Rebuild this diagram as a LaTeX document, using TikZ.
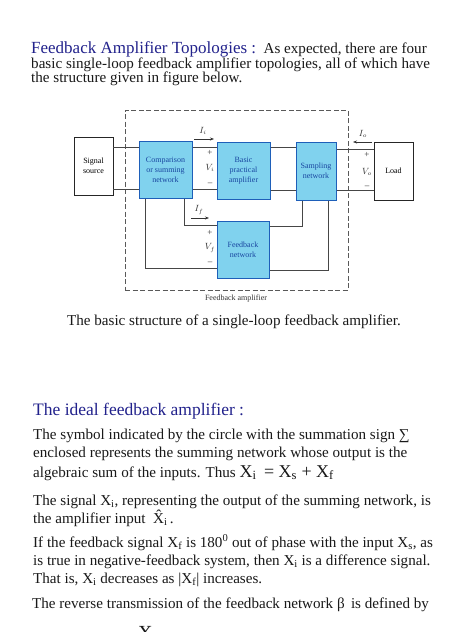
\documentclass[tikz,border=0pt]{standalone}
\usepackage{fontspec}
\setmainfont{Liberation Serif}
\usetikzlibrary{arrows.meta}
\definecolor{ttl}{RGB}{34,34,140}
\definecolor{boxfill}{RGB}{128,210,238}
\definecolor{boxedge}{RGB}{30,95,185}
\definecolor{boxtext}{RGB}{25,70,160}
\definecolor{wirec}{RGB}{70,70,70}
\definecolor{bodyc}{RGB}{25,25,25}
\newcommand\bodyfont{\fontsize{15.1}{17}\selectfont}
\newcommand\smallfont{\fontsize{8}{10}\selectfont}
\begin{document}
\begin{tikzpicture}[x=1pt,y=-1pt,
  bluebox/.style={draw=boxedge,line width=1pt,fill=boxfill,text=boxtext,inner sep=0pt,align=center,font=\smallfont},
  whitebox/.style={draw=black!85,line width=0.7pt,fill=white,text=black,inner sep=0pt,align=center,font=\smallfont},
  wire/.style={draw=wirec,line width=0.6pt},
  frame/.style={draw=black!65,line width=0.7pt,dash pattern=on 5pt off 2.5pt},
  curarrow/.style={draw=black!80,line width=0.7pt,-{Stealth[length=4pt,width=3pt]}},
  lbl/.style={inner sep=0pt,font=\fontsize{9}{10}\selectfont,text=black!80},
  txt/.style={anchor=base west,inner sep=0pt,text=bodyc,font=\bodyfont}]
\useasboundingbox (0,0) rectangle (474,632);
\clip (0,0) rectangle (474,632);
\fill[white] (0,0) rectangle (474,632);

% ---------- top text ----------
\node[txt] (t1) at (31,53) {{\color{ttl}\fontsize{17}{20}\selectfont Feedback Amplifier Topologies :}\ \ As expected, there are four};
\node[txt] (t2) at (31,68) {basic single-loop feedback amplifier topologies, all of which have};
\node[txt] (t3) at (31,82) {the structure given in figure below.};

% ---------- diagram ----------
\node[frame,minimum width=223pt,minimum height=180pt,inner sep=0pt] (fbamp) at (236.5,200) {};
\node[whitebox,minimum width=39pt,minimum height=58pt] (src) at (93.5,166) {Signal\\source};
\node[bluebox,minimum width=53pt,minimum height=57pt] (cmp) at (165.5,169.5) {Comparison\\or summing\\network};
\node[bluebox,minimum width=53pt,minimum height=57pt] (amp) at (243.5,170.5) {Basic\\practical\\amplifier};
\node[bluebox,minimum width=40pt,minimum height=58pt] (smp) at (316,171) {Sampling\\network};
\node[whitebox,minimum width=39pt,minimum height=58pt] (load) at (393.5,171) {Load};
\node[bluebox,minimum width=52pt,minimum height=57pt] (fbn) at (243,249.5) {Feedback\\network};
\node[lbl,font=\fontsize{8}{9}\selectfont] (fblab) at (236,299) {Feedback amplifier};

\coordinate (ytop) at (0,147);
\coordinate (ybot) at (0,189);
\coordinate (ytopo) at (0,149);
\coordinate (yboto) at (0,190);
\draw[wire] (src.east |- ytop) -- (cmp.west |- ytop);
\draw[wire] (src.east |- ybot) -- (cmp.west |- ybot);
\draw[wire] (cmp.east |- ytop) -- (amp.west |- ytop);
\draw[wire] (cmp.east |- ybot) -- (amp.west |- ybot);
\draw[wire] (amp.east |- ytop) -- (smp.west |- ytop);
\draw[wire] (amp.east |- yboto) -- (smp.west |- yboto);
\draw[wire] (smp.east |- ytopo) -- (load.west |- ytopo);
\draw[wire] (smp.east |- yboto) -- (load.west |- yboto);

\coordinate (ca) at (184,225);
\coordinate (cb) at (145,268);
\coordinate (sa) at (302,226);
\coordinate (sb) at (328,270);
\draw[wire] (cmp.south -| ca) -- (ca) -- (fbn.west |- ca);
\draw[wire] (cmp.south -| cb) -- (cb) -- (fbn.west |- cb);
\draw[wire] (smp.south -| sa) -- (sa) -- (fbn.east |- sa);
\draw[wire] (smp.south -| sb) -- (sb) -- (fbn.east |- sb);

% current arrows
\coordinate (ii1) at (194,139); \coordinate (ii2) at (214,139);
\draw[curarrow] (ii1) -- (ii2);
\node[lbl] (iil) at (203,131) {$I_i$};
\coordinate (io1) at (372,142); \coordinate (io2) at (353,142);
\draw[curarrow] (io1) -- (io2);
\node[lbl] (iol) at (363,134) {$I_o$};
\coordinate (if1) at (191,218); \coordinate (if2) at (209,218);
\draw[curarrow] (if1) -- (if2);
\node[lbl] (ifl) at (199,210) {$I_f$};

% voltage labels
\node[lbl] (vip) at (210,153) {+};
\node[lbl] (vi) at (210,168) {$V_i$};
\node[lbl] (vim) at (210,184) {--};
\node[lbl] (vop) at (367,155) {+};
\node[lbl] (vo) at (367,172) {$V_o$};
\node[lbl] (vom) at (367,187) {--};
\node[lbl] (vfp) at (210,233) {+};
\node[lbl] (vf) at (210,248) {$V_f$};
\node[lbl] (vfm) at (210,263) {--};

% caption
\node[txt,anchor=base] (cap) at (234,325) {The basic structure of a single-loop feedback amplifier.};

% ---------- lower text ----------
\node[txt,text=ttl,font=\fontsize{17.5}{20}\selectfont] (h2) at (33,415) {The ideal feedback amplifier :};
\node[txt] (b1) at (33,439) {The symbol indicated by the circle with the summation sign ∑};
\node[txt] (b2) at (33,457) {enclosed represents the summing network whose output is the};
\node[txt] (b3) at (33,477) {algebraic sum of the inputs. Thus {\fontsize{18}{20}\selectfont X\textsubscript{i} \,= X\textsubscript{s} + X\textsubscript{f}}};
\node[txt] (b4) at (33,505) {The signal X\textsubscript{i}, representing the output of the summing network, is};
\node[txt] (b5) at (33,523) {the amplifier input \ \^{X}\textsubscript{i}\,.};
\node[txt] (b6) at (33,547) {If the feedback signal X\textsubscript{f} is 180\textsuperscript{0} out of phase with the input X\textsubscript{s}, as};
\node[txt] (b7) at (33,565) {is true in negative-feedback system, then X\textsubscript{i} is a difference signal.};
\node[txt] (b8) at (33,583) {That is, X\textsubscript{i} decreases as |X\textsubscript{f}| increases.};
\node[txt] (b9) at (32,608) {The reverse transmission of the feedback network β\, is defined by};
\node[txt,font=\fontsize{20}{22}\selectfont] (bx) at (138,639) {X};
\end{tikzpicture}
\end{document}
